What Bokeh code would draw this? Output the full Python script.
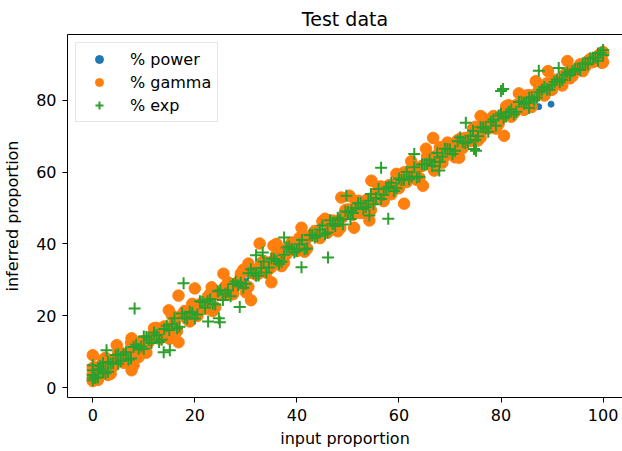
from bokeh.plotting import figure
from bokeh.models import Range1d, Legend, LinearAxis, FixedTicker, ColumnDataSource
from bokeh.embed import file_html
from bokeh.resources import INLINE

# ---------------- data ----------------
x_ticks = [0, 20, 40, 60, 80, 100]
y_ticks = [0, 20, 40, 60, 80]

power_x = [0, 2, 4, 6, 8, 10, 12, 14, 16, 18,
           20, 22, 24, 26, 28, 30, 32, 34, 36, 38,
           40, 42, 44, 46, 48, 50, 52, 54, 56, 58,
           60, 62, 64, 66, 68, 70, 72, 74, 76, 78,
           80, 82, 84, 86, 88, 90, 92, 94, 96, 98,
           100, 51.8, 72.8, 87.4, 89.8]
power_y = [3.2, 4.5, 7.0, 8.1, 10.9, 11.6, 14.3, 15.1, 17.9, 18.8,
           21.5, 22.4, 25.2, 26.0, 28.9, 29.6, 32.3, 33.1, 35.9, 36.8,
           39.5, 40.4, 43.1, 44.0, 46.8, 47.6, 50.3, 51.2, 53.9, 54.8,
           57.5, 58.3, 61.1, 61.9, 64.8, 65.7, 68.3, 69.2, 72.0, 72.8,
           75.6, 76.3, 79.2, 80.0, 82.7, 83.6, 86.4, 87.2, 89.8, 90.9,
           93.2, 49.1, 66.5, 78.2, 78.9]

gamma_x = [0, 0, 0, 0, 1, 1, 2, 2, 3, 4,
           4, 5, 6, 7, 8, 9, 10, 11, 12, 13,
           14, 15, 16, 18, 19, 20, 21, 22, 23, 24,
           25, 26, 27, 28, 29, 30, 31, 32, 33, 34,
           35, 36, 37, 38, 39, 40, 41, 42, 43, 44,
           45, 46, 47, 48, 49, 50, 51, 52, 53, 54,
           55, 56, 57, 58, 59, 60, 61, 62, 63, 64,
           65, 66, 67, 68, 69, 70, 71, 72, 73, 74,
           75, 76, 77, 78, 79, 80, 81, 82, 83, 84,
           85, 86, 87, 88, 89, 90, 91, 92, 93, 94,
           95, 96, 97, 98, 99, 100, 100, 100]
gamma_y = [1.8, 3.8, 5.5, 2.5, 5.5, 2.1, 5.2, 7.7, 3.5, 7.7,
           5.9, 9.7, 6.9, 9.6, 12.1, 8.5, 12.9, 12.7, 16.5, 13.6,
           17.0, 13.6, 18.0, 21.3, 18.4, 21.2, 23.2, 21.9, 26.1, 22.3,
           26.2, 28.2, 25.9, 28.3, 31.7, 28.0, 31.9, 31.4, 34.7, 32.0,
           35.0, 36.9, 33.8, 37.2, 40.4, 38.0, 41.6, 38.7, 42.5, 42.0,
           46.3, 43.1, 46.5, 43.5, 47.5, 49.6, 48.1, 52.0, 48.8, 52.5,
           52.2, 55.9, 51.9, 56.3, 56.4, 55.5, 59.9, 58.7, 61.1, 58.4,
           62.1, 64.3, 62.1, 66.9, 64.4, 66.2, 64.1, 69.3, 69.5, 68.6,
           72.6, 69.6, 72.8, 74.5, 72.1, 75.0, 78.3, 75.4, 78.7, 78.1,
           81.3, 78.1, 82.0, 82.0, 84.7, 82.9, 85.2, 84.1, 87.6, 86.7,
           88.9, 88.1, 90.9, 90.6, 92.3, 93.0, 90.6, 93.4]

half_x = [0.5, 1.5, 2.5, 3.5, 4.5, 5.5, 6.5, 7.5, 8.5, 9.5,
          10.5, 11.5, 12.5, 13.5, 14.5, 15.5, 16.5, 17.5, 18.5, 19.5,
          20.5, 21.5, 22.5, 23.5, 24.5, 25.5, 26.5, 27.5, 28.5, 29.5,
          30.5, 31.5, 32.5, 33.5, 34.5, 35.5, 36.5, 37.5, 38.5, 39.5,
          40.5, 41.5, 42.5, 43.5, 44.5, 45.5, 46.5, 47.5, 48.5, 49.5,
          50.5, 51.5, 52.5, 53.5, 54.5, 55.5, 56.5, 57.5, 58.5, 59.5,
          60.5, 61.5, 62.5, 63.5, 64.5, 65.5, 66.5, 67.5, 68.5, 69.5,
          70.5, 71.5, 72.5, 73.5, 74.5, 75.5, 76.5, 77.5, 78.5, 79.5,
          80.5, 81.5, 82.5, 83.5, 84.5, 85.5, 86.5, 87.5, 88.5, 89.5,
          90.5, 91.5, 92.5, 93.5, 94.5, 95.5, 96.5, 97.5, 98.5, 99.5]
gamma_half_y = [5.6, 3.5, 8.3, 3.8, 7.7, 9.7, 7.0, 12.4, 10.3, 12.8,
                9.7, 14.3, 16.6, 13.9, 16.3, 20.1, 15.7, 20.3, 19.0, 23.3,
                19.9, 22.8, 25.2, 21.3, 26.2, 25.8, 29.3, 26.0, 29.4, 32.8,
                28.0, 32.7, 31.7, 35.2, 33.0, 35.3, 38.7, 34.8, 39.3, 38.3,
                41.7, 37.8, 42.1, 43.6, 41.6, 47.0, 44.1, 46.3, 44.4, 49.4,
                48.4, 51.9, 48.6, 52.1, 49.4, 54.2, 56.0, 54.3, 53.8, 59.5,
                57.9, 57.2, 61.0, 57.8, 61.7, 64.3, 62.0, 64.8, 62.6, 68.2,
                66.1, 68.9, 66.7, 69.4, 72.1, 68.8, 73.0, 72.1, 75.6, 73.3,
                76.3, 78.6, 76.3, 78.5, 77.3, 81.4, 80.7, 83.6, 81.3, 84.2,
                85.7, 84.6, 87.2, 86.1, 88.6, 90.0, 89.3, 91.5, 91.4, 93.0]

gamma_out_x = [0, 4.7, 7.6, 16.8, 14.9, 7.6, 16.8, 20, 8, 32.7,
               35.4, 25.6, 23.3, 30.5, 35, 30, 31, 54.6, 50.3, 54.2,
               40.9, 36, 51.2, 52.6, 35, 66.7, 65.3, 71.8, 61, 64.7,
               76.5, 62.4, 80.6, 83.5, 89.2, 86.8, 66.9, 91.7, 93, 99.8,
               76, 48.7]
gamma_out_y = [9.0, 11.8, 13.7, 25.6, 21.5, 4.8, 12.6, 27.6, 6.2, 40.1,
               39.5, 31.7, 27.9, 34.5, 29.3, 26.5, 24.3, 57.6, 53.4, 46.5,
               44.5, 40.0, 44.5, 48.7, 33.5, 69.5, 66.5, 64.0, 51.2, 56.2,
               75.0, 63.0, 70.1, 81.9, 88.1, 85.3, 60.4, 84.8, 90.9, 90.4,
               75.6, 52.9]

exp_x = [0, 0, 0, 0, 0, 0.5, 1, 1, 1.5, 2,
         2, 3, 3, 4, 5, 5, 6, 7, 8, 9,
         10, 10, 11, 12, 13, 14, 15, 16, 17, 18,
         19, 20, 21, 22, 23, 24, 25, 26, 27, 28,
         29, 30, 31, 32, 33, 34, 35, 36, 37, 38,
         39, 40, 41, 42, 43, 44, 45, 46, 47, 48,
         49, 50, 51, 52, 53, 54, 55, 56, 57, 58,
         59, 60, 61, 62, 63, 64, 65, 66, 67, 68,
         69, 70, 71, 72, 73, 74, 75, 76, 77, 78,
         79, 80, 81, 82, 83, 84, 85, 86, 87, 88,
         89, 90, 91, 92, 93, 94, 95, 96, 97, 98,
         99, 100, 100]
exp_y = [3.5, 2.0, 2.8, 4.8, 6.2, 2.7, 5.1, 2.8, 5.0, 6.8,
         4.4, 7.1, 4.4, 6.8, 9.2, 6.6, 9.2, 7.7, 11.3, 10.8,
         14.2, 10.8, 13.3, 15.3, 12.7, 16.3, 16.0, 19.3, 16.9, 19.5,
         21.1, 19.2, 24.0, 22.2, 24.6, 23.1, 27.1, 26.2, 25.4, 29.5,
         29.2, 28.9, 32.9, 31.1, 33.3, 32.0, 35.9, 35.3, 35.0, 39.0,
         38.6, 38.1, 41.1, 38.7, 42.5, 42.2, 45.1, 43.2, 45.5, 47.3,
         45.4, 48.9, 48.6, 51.3, 49.7, 52.0, 51.0, 55.3, 53.7, 55.9,
         54.7, 58.2, 57.9, 58.0, 61.3, 58.7, 62.1, 63.4, 62.8, 62.9,
         66.5, 66.3, 65.9, 69.6, 68.0, 70.1, 68.9, 72.5, 72.1, 74.0,
         72.9, 76.3, 75.5, 77.4, 76.8, 79.6, 79.2, 80.8, 80.7, 82.9,
         83.0, 84.3, 85.8, 85.6, 87.7, 88.1, 88.7, 90.2, 90.0, 91.8,
         93.0, 94.0, 92.6]
exp_half_y = [2.7, 5.9, 4.0, 6.6, 9.0, 7.4, 9.8, 8.1, 11.9, 11.4,
              14.1, 12.4, 14.6, 13.3, 17.2, 17.6, 16.5, 20.6, 19.2, 20.8,
              20.3, 23.8, 24.0, 23.3, 26.8, 24.4, 27.0, 28.8, 28.4, 27.8,
              31.8, 31.9, 31.2, 35.1, 33.4, 35.8, 34.4, 37.0, 39.3, 37.6,
              39.9, 38.5, 42.5, 41.8, 44.0, 42.7, 46.6, 45.0, 46.7, 49.0,
              46.9, 50.0, 51.4, 50.3, 53.9, 52.8, 52.5, 55.5, 57.0, 55.5,
              57.8, 60.0, 58.7, 58.5, 62.1, 62.2, 61.7, 65.3, 64.3, 66.4,
              65.0, 68.6, 68.4, 68.4, 71.5, 70.0, 72.4, 71.2, 74.6, 75.7,
              75.0, 76.7, 76.1, 79.5, 79.0, 80.7, 80.0, 82.2, 83.7, 82.9,
              85.1, 85.0, 87.1, 87.0, 88.6, 88.4, 90.2, 91.7, 91.8, 93.2]

exp_out_x = [8.2, 17.8, 2.7, 15.1, 13.9, 24.9, 22.6, 28.8, 24.7, 32.0,
             33.3, 37.5, 46.1, 40.9, 57.9, 56.5, 49.7, 54.2, 50.7, 63.0,
             75.1, 67.9, 73.1, 87.4, 80.4, 91.3, 74.7, 85.5, 80.0, 99.0]
exp_out_y = [22.0, 29.0, 10.4, 10.4, 9.8, 18.2, 18.4, 22.4, 19.3, 36.8,
             37.6, 41.8, 36.2, 33.5, 47.0, 61.2, 53.4, 47.9, 49.3, 65.0,
             65.9, 60.4, 73.7, 88.2, 83.1, 89.0, 66.4, 77.8, 82.6, 91.0]

series_labels = ["% power", "% gamma", "% exp"]
colors = ["#1f77b4", "#ff7f0e", "#2ca02c"]

# ---------------- figure ----------------
FONT = "DejaVu Sans"

p = figure(width=622, height=451, output_backend="svg", toolbar_location=None,
           x_range=Range1d(-4.95, 103.8), y_range=Range1d(-2.78, 98.3),
           min_border_left=66, min_border_right=0, min_border_top=33,
           min_border_bottom=54, title="Test data")
p.background_fill_color = "white"
p.border_fill_color = "white"
p.outline_line_color = None
p.grid.visible = False

p.title.text_font = FONT
p.title.text_font_size = "19px"
p.title.text_font_style = "normal"
p.title.text_color = "black"
p.title.align = "center"
p.title.offset = 4

for ax in (p.xaxis[0], p.yaxis[0]):
    ax.major_tick_out = 5
    ax.major_tick_in = 0
    ax.minor_tick_out = 0
    ax.minor_tick_in = 0
    ax.axis_line_color = "black"
    ax.major_tick_line_color = "black"
    ax.major_label_text_font = FONT
    ax.major_label_text_font_size = "16px"
    ax.major_label_text_color = "black"
    ax.axis_label_text_font = FONT
    ax.axis_label_text_font_size = "16px"
    ax.axis_label_text_font_style = "normal"
    ax.axis_label_text_color = "black"
    ax.major_label_standoff = 6

p.xaxis[0].ticker = FixedTicker(ticks=x_ticks)
p.yaxis[0].ticker = FixedTicker(ticks=y_ticks)
p.xaxis[0].axis_label = "input proportion"
p.yaxis[0].axis_label = "inferred proportion"
p.xaxis[0].axis_label_standoff = 5
p.yaxis[0].axis_label_standoff = 11

# top spine
top = LinearAxis(ticker=FixedTicker(ticks=[]), major_label_text_font_size="0px",
                 major_tick_out=0, major_tick_in=0, minor_tick_out=0, minor_tick_in=0,
                 axis_line_color="black", major_label_standoff=0)
p.add_layout(top, "above")

src_pow = ColumnDataSource(dict(x=power_x, y=power_y))
src_gam = ColumnDataSource(dict(x=gamma_x + half_x + gamma_out_x,
                                y=gamma_y + gamma_half_y + gamma_out_y))
src_exp = ColumnDataSource(dict(x=exp_x + half_x + exp_out_x,
                                y=exp_y + exp_half_y + exp_out_y))

r_pow = p.scatter("x", "y", source=src_pow, marker="circle", size=6,
                  fill_color=colors[0], line_color=colors[0])
r_gam = p.scatter("x", "y", source=src_gam, marker="circle", size=11.5,
                  fill_color=colors[1], line_color=colors[1])
r_exp = p.scatter("x", "y", source=src_exp, marker="cross", size=12,
                  line_color=colors[2], line_width=2)

legend = Legend(items=[(series_labels[0], [r_pow]), (series_labels[1], [r_gam]),
                       (series_labels[2], [r_exp])],
                location="top_left", margin=8, padding=6, spacing=3,
                glyph_width=34, glyph_height=20, label_height=20, label_standoff=14,
                label_text_font=FONT, label_text_font_size="16px",
                label_text_color="black",
                background_fill_color="white", background_fill_alpha=0.8,
                border_line_color="#cccccc", border_line_width=1)
p.add_layout(legend)

open("out.html", "w").write(file_html(p, INLINE))
